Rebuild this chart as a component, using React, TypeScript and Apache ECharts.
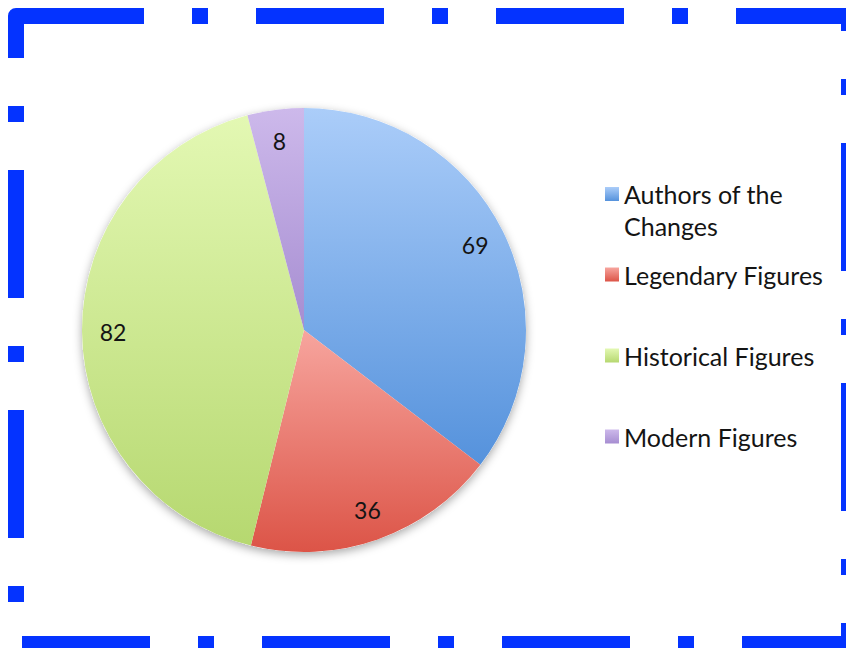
import React, { useEffect, useRef } from 'react';
import * as echarts from 'echarts';

const categories = ['Authors of the Changes', 'Legendary Figures', 'Historical Figures', 'Modern Figures'];
const legendTexts = ['\nAuthors of the\nChanges', 'Legendary Figures', 'Historical Figures', 'Modern Figures'];
const values = [69, 36, 82, 8];
const lightColors = ['#abcdf9', '#f7a59e', '#e3f8b3', '#cdb9eb'];
const darkColors = ['#5592dc', '#dc5447', '#b6d870', '#a68dd1'];

export default function App() {
  const ref = useRef<HTMLDivElement>(null);
  useEffect(() => {
    const chart = echarts.init(ref.current!, null, { renderer: 'svg' });
    const font = 'Lato, "Open Sans", sans-serif';
    const center = [304, 330];
    const R = 222;
    const legendTop = [146, 262, 343, 424];
    const total = values.reduce((a, b) => a + b, 0);
    chart.setOption({
      animation: false,
      backgroundColor: '#ffffff',
      legend: categories.map((name, i) => ({
        data: [name],
        orient: 'vertical',
        left: 605,
        top: legendTop[i],
        padding: 0,
        itemWidth: 14,
        itemHeight: 14,
        icon: 'rect',
        selectedMode: false,
        formatter: () => legendTexts[i],
        textStyle: {
          fontFamily: font,
          fontSize: 25,
          color: '#141414',
          lineHeight: i === 0 ? 32 : 24,
        },
      })),
      series: [
        {
          type: 'pie',
          name: 'bg',
          silent: true,
          center,
          radius: R,
          z: 1,
          label: { show: false },
          labelLine: { show: false },
          emphasis: { disabled: true },
          itemStyle: {
            color: '#ffffff',
            borderWidth: 0,
            shadowBlur: 10,
            shadowColor: 'rgba(0,0,0,0.35)',
            shadowOffsetY: 3,
          },
          data: [{ value: total, name: '__bg' }],
        },
        {
          type: 'pie',
          name: 'main',
          center,
          radius: R,
          z: 2,
          startAngle: 90,
          clockwise: true,
          silent: true,
          label: { show: false },
          labelLine: { show: false },
          emphasis: { disabled: true },
          data: values.map((v, i) => ({
            value: v,
            name: categories[i],
            itemStyle: {
              borderWidth: 0,
              color: new echarts.graphic.LinearGradient(0, 0, 0, 1, [
                { offset: 0, color: lightColors[i] },
                { offset: 1, color: darkColors[i] },
              ]),
            },
          })),
        },
        {
          type: 'pie',
          name: 'labels',
          center,
          radius: [154, R],
          z: 3,
          startAngle: 90,
          clockwise: true,
          silent: true,
          itemStyle: { color: 'rgba(0,0,0,0)', borderWidth: 0 },
          labelLine: { show: false },
          emphasis: { disabled: true },
          label: {
            show: true,
            position: 'inside',
            formatter: '{c}',
            fontFamily: font,
            fontSize: 23,
            color: '#141414',
          },
          data: values.map((v, i) => ({ value: v, name: categories[i] })),
        },
      ],
      graphic: [
        {
          type: 'rect',
          silent: true,
          z: 100,
          shape: { x: 16, y: 16, width: 833, height: 628 },
          style: {
            fill: 'none',
            stroke: '#0433ff',
            lineWidth: 16,
            lineDash: [128, 48, 16, 48],
            lineJoin: 'round',
          },
        },
      ],
    });
    return () => chart.dispose();
  }, []);
  return <div ref={ref} style={{ position: 'fixed', left: 0, top: 0, width: 846, height: 648 }} />;
}
